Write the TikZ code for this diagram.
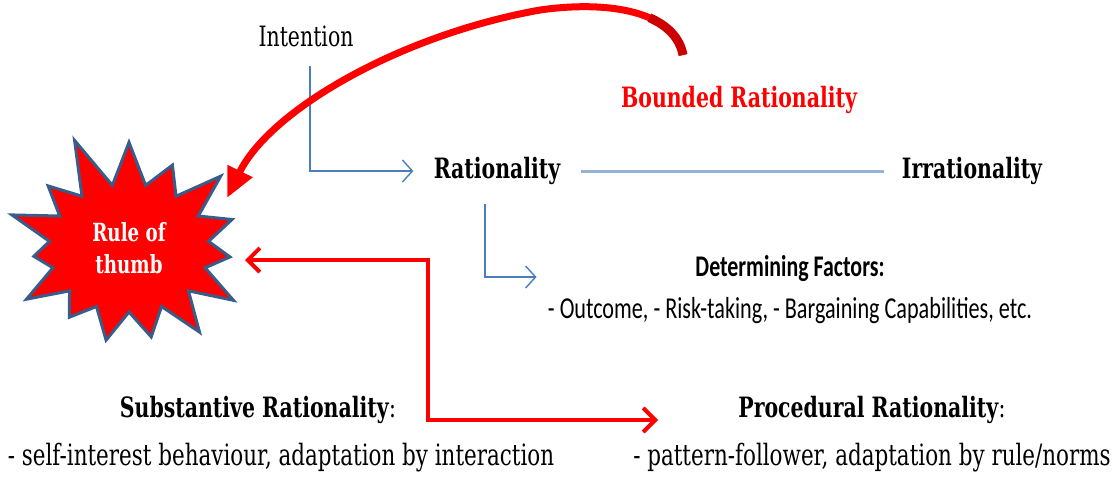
\documentclass[tikz,border=0pt]{standalone}
\usepackage{fontspec}
\setmainfont[FakeStretch=0.73]{DejaVu Serif}
\newfontfamily\calibri[FakeStretch=0.73]{Carlito}
\usetikzlibrary{arrows.meta, positioning, calc, shapes.symbols}
\definecolor{burstedge}{RGB}{56,93,138}
\definecolor{linkblue}{RGB}{74,126,187}
\definecolor{paleblue}{RGB}{149,179,215}

\begin{document}
\begin{tikzpicture}[x=0.5pt, y=-0.5pt,
        head/.style={font=\fontsize{14}{16}\selectfont\bfseries, inner sep=2pt},
        plain/.style={font=\fontsize{14.7}{17}\selectfont, inner sep=2pt},
        link/.style={draw=linkblue, line width=0.7pt, -{Straight Barb[length=5pt,width=11pt]}},
        redlink/.style={draw=red, line width=2pt, {Straight Barb[length=6pt,width=12pt]}-{Straight Barb[length=6pt,width=12pt]}},
        boundline/.style={draw=red, line width=3.5pt, -{Triangle[length=15pt,width=13pt]}},
        burst/.style={starburst, starburst points=15, starburst point height=28pt, random starburst=11, fill=red, draw=burstedge, line width=1.5pt, minimum width=136pt, minimum height=120pt, text=white, align=center, font=\fontsize{12.5}{16}\selectfont\bfseries}
    ]
    \useasboundingbox (0,0) rectangle (1117,479);

    \node[burst] (rule) at (129,248) {Rule of\\thumb};
    \node[plain, font=\fontsize{14}{16}\selectfont] (intent) at (306,36) {Intention};
    \node[head] (rat) at (497,171) {Rationality};
    \node[head] (irr) at (972,171) {Irrationality};
    \node[head, text=red] (bounded) at (739,100) {Bounded Rationality};
    \node[align=center, inner sep=2pt, font=\calibri\fontsize{15.2}{21}\selectfont] (factors) at (790,290)
        {{\fontsize{15}{21}\selectfont\bfseries Determining Factors:}\\- Outcome, - Risk-taking, - Bargaining Capabilities, etc.};

    \node[head, font=\fontsize{14}{16}\selectfont] (subhead) at (258,410) {\textbf{Substantive Rationality}:};
    \node[plain] (sublist) at (281,458) {- self-interest behaviour, adaptation by interaction};
    \node[head, font=\fontsize{14}{16}\selectfont] (prochead) at (872,410) {\textbf{Procedural Rationality}:};
    \node[plain] (proclist) at (872,458) {- pattern-follower, adaptation by rule/norms};

    \draw[link, shorten >=8pt] ([xshift=2pt,yshift=-7.5pt]intent.south) |- (rat.west);
    \draw[paleblue, line width=1.5pt, shorten <=8pt, shorten >=7pt] (rat.east) -- (irr.west);
    \draw[link, shorten >=3.5pt] ([xshift=-6pt,yshift=-7.5pt]rat.south) |- ([yshift=6.5pt]factors.west);

    \coordinate (bendstart) at (683,55);
    \draw[boundline] (bendstart) .. controls (675,12) and (610,0) .. (540,10)
        .. controls (400,35) and (270,110) .. ($(rule)+(98,-50)$);
    % darker, heavier start of the bend
    \draw[red!80!black, line width=4.5pt] (bendstart) .. controls (679.8,37.8) and (667.5,25.6) .. (649.4,17.7);

    \draw[redlink] ($(rule)+(116,12)$) -- ++(183,0) |- ($(prochead.west)+(-76,10)$);
\end{tikzpicture}
\end{document}
